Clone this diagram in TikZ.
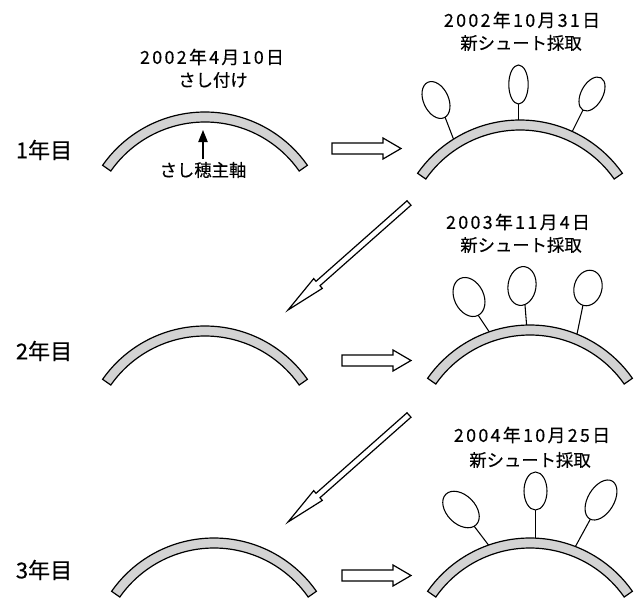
\documentclass[tikz,border=0pt]{standalone}
\usepackage{fontspec}
\setmainfont{Noto Sans CJK JP}[FakeBold=0.4]
\newfontfamily\datefont{Noto Sans CJK JP}[LetterSpace=13,FakeBold=0.4]
\usetikzlibrary{arrows.meta}
\definecolor{stemgray}{RGB}{211,211,211}

\tikzset{
  caption/.style={font=\fontsize{13}{15}\selectfont, inner sep=0pt},
  datecap/.style={font=\fontsize{13.4}{15}\selectfont\datefont, inner sep=0pt},
  yearlbl/.style={font=\fontsize{16.5}{18}\selectfont, inner sep=0pt},
  outline/.style={draw=black, line width=0.9pt, line join=miter},
  band/.style={outline, fill=stemgray},
  shoot/.style={draw=black, line width=0.8pt, fill=white},
  stalk/.style={draw=black, line width=0.8pt},
  % curved cutting, origin at the top of its outer edge
  pics/stem/.style={code={
    \path[band] ({125*cos(-145)},{125+125*sin(-145)})
      arc[start angle=-145, end angle=-35, radius=125]
      -- ({115*cos(-35)},{125+115*sin(-35)})
      arc[start angle=-35, end angle=-145, radius=115] -- cycle;
  }},
  % hollow block arrow, origin at the middle of its tail
  pics/blockarrow/.style={code={
    \path[outline, fill=white] (0,-5.5) -- (51,-5.5) -- (51,-10.5) -- (69,0)
      -- (51,10.5) -- (51,5.5) -- (0,5.5) -- cycle;
  }},
  % long thin arrow pointing down to the left
  pics/diagarrow/.style={code={
    \path[outline, fill=white] (2,2.2) -- (-89,82.7) -- (-86.7,85.4) -- (-121,107)
      -- (-95.3,75.6) -- (-93,78.3) -- (-2,-2.2) -- cycle;
  }},
}

\begin{document}
\begin{tikzpicture}[x=0.75pt,y=-0.75pt]
\useasboundingbox (0,0) rectangle (643,600);
\clip (0,0) rectangle (643,600);

% year labels
\node[yearlbl] (y1) at (44,150) {1年目};
\node[yearlbl] (y2) at (44,351) {2年目};
\node[yearlbl] (y3) at (44,570) {3年目};

% first year: planting
\node[datecap] (d0) at (212,57) {2002年4月10日};
\node[caption] (c0) at (213,80) {さし付け};
\pic at (205,112) {stem};
\node[caption, inner sep=2pt] (axis) at (203,170) {さし穂主軸};
\coordinate (axistip) at (203,130);
\draw[line width=0.9pt, -{Triangle[length=9pt,width=7pt]}] (axis.north) -- (axistip);

\pic at (332,148.5) {blockarrow};

% first year: harvest
\node[datecap] (d1) at (522,20) {2002年10月31日};
\node[caption] (c1) at (521,43) {新シュート採取};
\draw[stalk] (445,117) -- (455,143);
\draw[shoot, rotate around={25:(436,100)}] (436,100) ellipse[x radius=12.5, y radius=19.5];
\draw[stalk] (518.5,104) -- (518.5,125);
\draw[shoot] (518.5,84.5) ellipse[x radius=9.7, y radius=19.5];
\draw[stalk] (583,110) -- (571,134);
\draw[shoot, rotate around={-29:(592,94)}] (592,94) ellipse[x radius=10.8, y radius=18.5];
\pic at (520,120) {stem};

\pic at (409,203) {diagarrow};

% second year
\pic at (205,326) {stem};
\pic at (342,360.5) {blockarrow};
\node[datecap] (d2) at (518,222) {2003年11月4日};
\node[caption] (c2) at (521,245) {新シュート採取};
\draw[stalk] (478,315) -- (492.7,337);
\draw[shoot, rotate around={26:(469,297)}] (469,297) ellipse[x radius=14.7, y radius=20.5];
\draw[stalk] (525,305) -- (527,330);
\draw[shoot, rotate around={-8:(522,286)}] (522,286) ellipse[x radius=14, y radius=19.5];
\draw[stalk] (583,305) -- (576,339);
\draw[shoot, rotate around={-15:(588,288)}] (588,288) ellipse[x radius=13.9, y radius=18];
\pic at (530,325) {stem};

\pic at (409,415) {diagarrow};

% third year
\pic at (214,538) {stem};
\pic at (342,575.5) {blockarrow};
\node[datecap] (d3) at (532,435) {2004年10月25日};
\node[caption] (c3) at (530,460) {新シュート採取};
\draw[stalk] (474,526) -- (490,547);
\draw[shoot, rotate around={45:(461,509.5)}] (461,509.5) ellipse[x radius=14.3, y radius=21.5];
\draw[stalk] (535.5,510) -- (535.5,545);
\draw[shoot] (535.5,491) ellipse[x radius=11.5, y radius=19];
\draw[stalk] (591,518) -- (573.5,550);
\draw[shoot, rotate around={-31:(601,500)}] (601,500) ellipse[x radius=13.1, y radius=22];
\pic at (530,538) {stem};
\end{tikzpicture}
\end{document}
